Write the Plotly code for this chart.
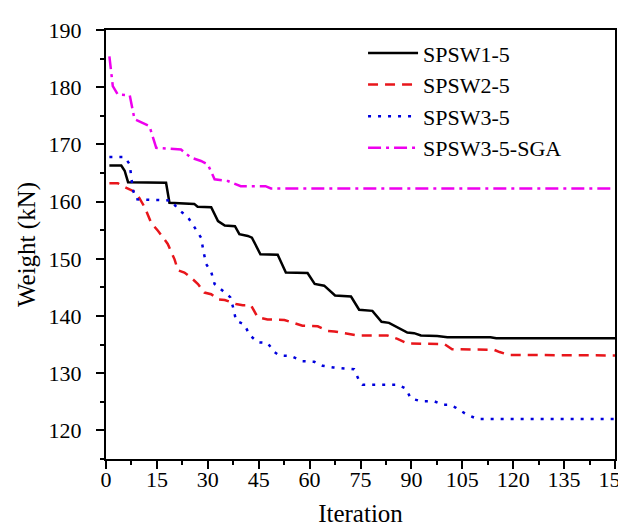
import plotly.graph_objects as go

# SPSW1-5
x1 = [1, 4.5, 5.5, 6.5, 17.7, 18.7, 26, 27, 31, 33, 35, 38, 39.3, 41.8, 43, 45.5, 50.6, 53, 59.4, 61.5,
      64.3, 67.5, 72.2, 74.6, 78.5, 81.2, 83.4, 86.4, 88.8, 90.8, 92.8, 97.6, 100.6, 113.3, 115, 150]
y1 = [166.3, 166.3, 165.4, 163.4, 163.3, 159.8, 159.6, 159.1, 159.0, 156.6, 155.8, 155.7, 154.3, 154.0,
      153.7, 150.8, 150.7, 147.6, 147.5, 145.6, 145.3, 143.6, 143.4, 141.1, 140.9, 139.0, 138.8, 137.8,
      137.1, 137.0, 136.6, 136.5, 136.3, 136.3, 136.1, 136.1]

# SPSW2-5
x2 = [1, 3.5, 6, 8.9, 11.4, 13.3, 15.3, 18.2, 20.2, 21.2, 23.1, 25.1, 27.1, 29, 31, 33, 35, 38.3, 40.3,
      42.7, 44.7, 47.6, 52.6, 55, 57.9, 62.4, 65.3, 67.3, 70.7, 74.1, 82.9, 85.9, 88.8, 99.7, 102, 114.3,
      116, 118.7, 150]
y2 = [163.2, 163.2, 162.4, 161.6, 159.0, 156.3, 154.9, 152.6, 149.9, 148.0, 147.6, 146.7, 145.6, 144.1,
      143.8, 142.9, 142.8, 142.1, 141.9, 141.9, 139.8, 139.4, 139.3, 138.8, 138.3, 138.2, 137.4, 137.3,
      136.9, 136.6, 136.6, 136.0, 135.2, 135.1, 134.2, 134.1, 133.7, 133.2, 133.1]

# SPSW3-5
x3 = [1, 5.5, 7, 7.4, 7.9, 8.9, 18.2, 19.2, 21.2, 24.1, 26.1, 28, 28.8, 29.5, 31, 32, 34.4, 36.6, 37.6,
      38.3, 40.8, 42.3, 44.7, 47.6, 49.6, 51.1, 54.5, 57.9, 61.4, 63.8, 67, 73.1, 74.6, 75.6, 85.9, 88.4,
      89.8, 92.8, 96.7, 99.1, 101.1, 103, 106, 109.4, 150]
y3 = [167.8, 167.8, 166.5, 164.2, 162.1, 160.4, 160.3, 160.2, 158.7, 157.3, 155.5, 153.7, 151.1, 149.1,
      147.7, 145.6, 144.4, 143.3, 141.2, 139.2, 138.5, 136.7, 135.4, 135.3, 133.7, 133.1, 133.0, 132.1,
      132.0, 131.3, 131.0, 130.7, 128.7, 128.0, 128.0, 127.3, 125.6, 125.1, 125.1, 124.5, 124.5, 124.0,
      122.9, 122.0, 122.0]

# SPSW3-5-SGA
x4 = [1, 2, 3.5, 7, 8.4, 12.8, 14.8, 22.1, 25, 28, 30, 32, 35.9, 39.7, 47, 48.6, 150]
y4 = [185.4, 180.2, 178.7, 178.6, 174.4, 173.2, 169.4, 169.1, 167.7, 167.1, 166.5, 163.9, 163.6, 162.7,
      162.7, 162.3, 162.3]

names = ["SPSW1-5", "SPSW2-5", "SPSW3-5", "SPSW3-5-SGA"]
xtick_vals = [0, 15, 30, 45, 60, 75, 90, 105, 120, 135, 150]
ytick_vals = [120, 130, 140, 150, 160, 170, 180, 190]

FONT = "Liberation Serif"

fig = go.Figure()
fig.add_trace(go.Scatter(x=x1, y=y1, mode="lines", name=names[0],
                         line=dict(color="black", width=2.5)))
fig.add_trace(go.Scatter(x=x2, y=y2, mode="lines", name=names[1],
                         line=dict(color="#E8161B", width=2.5, dash="10px,7px")))
fig.add_trace(go.Scatter(x=x3, y=y3, mode="lines", name=names[2],
                         line=dict(color="#0000DD", width=2.5, dash="3px,7px")))
fig.add_trace(go.Scatter(x=x4, y=y4, mode="lines", name=names[3],
                         line=dict(color="#EE00EE", width=2.5, dash="13px,5px,3px,5px")))

axis_common = dict(showline=True, linecolor="black", linewidth=2, mirror=True,
                   ticks="outside", ticklen=8, tickwidth=2, tickcolor="black",
                   showgrid=False, zeroline=False,
                   tickfont=dict(family=FONT, size=22, color="black"))

fig.update_xaxes(range=[0, 150], tickvals=xtick_vals,
                 minor=dict(dtick=7.5, tick0=0, ticks="outside", ticklen=4, tickwidth=2,
                            tickcolor="black", showgrid=False),
                 title=dict(text="Iteration", font=dict(family=FONT, size=25, color="black"),
                            standoff=13),
                 ticklabelstandoff=-8,
                 **axis_common)
fig.update_yaxes(range=[115, 190], tickvals=ytick_vals,
                 minor=dict(dtick=5, tick0=115, ticks="outside", ticklen=4, tickwidth=2,
                            tickcolor="black", showgrid=False),
                 title=dict(text="Weight (kN)", font=dict(family=FONT, size=25, color="black"),
                            standoff=6),
                 ticklabelstandoff=10,
                 **axis_common)

fig.update_layout(
    width=626, height=530,
    margin=dict(l=98, r=19, t=22, b=79, autoexpand=False),
    paper_bgcolor="white", plot_bgcolor="white",
    font=dict(family=FONT, color="black"),
    legend=dict(x=0.505, y=0.995, xanchor="left", yanchor="top",
                bgcolor="rgba(0,0,0,0)", borderwidth=0,
                font=dict(family=FONT, size=22, color="black"),
                itemwidth=50, tracegroupgap=0),
)

fig.write_html("out.html")
